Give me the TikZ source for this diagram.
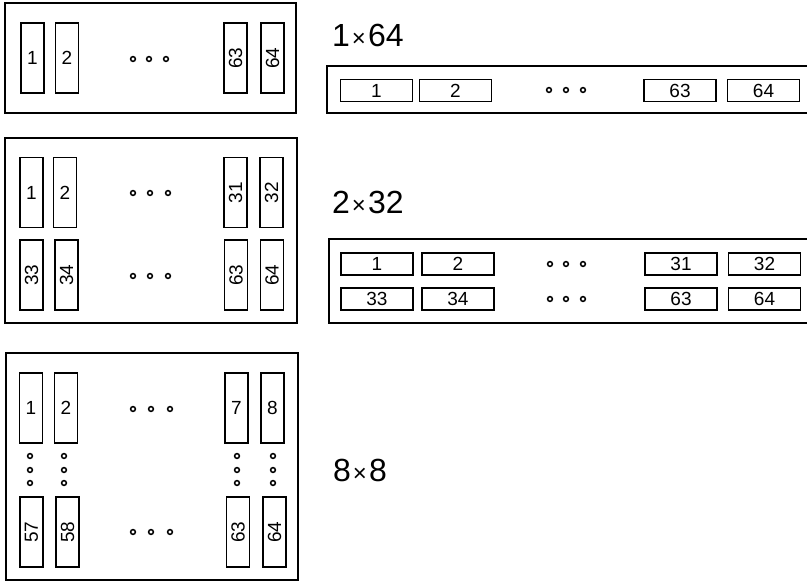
\documentclass[tikz,border=0pt]{standalone}
\usepackage{fontspec}
\usepackage{graphicx}
\setmainfont{Liberation Sans}
\tikzset{
  frame/.style={line width=2.4pt},
  cellv/.style={draw, line width=1.3pt, minimum width=23pt, minimum height=70pt, inner sep=0pt, font=\fontsize{19}{22}\selectfont},
  cellh/.style={draw, line width=1.3pt, minimum width=72pt, minimum height=22pt, inner sep=0pt, font=\fontsize{19}{22}\selectfont},
  ring/.style={draw, line width=1.5pt, fill=white},
  lab/.style={anchor=west, inner sep=0pt, font=\fontsize{32}{36}\selectfont}
}
\newcommand{\rot}[1]{\rotatebox{90}{#1}}
\newcommand{\tms}{\kern2pt{\fontsize{24}{24}\selectfont ×}\kern2pt}
\begin{document}
\begin{tikzpicture}[x=1pt,y=-1pt]
\useasboundingbox (0,0) rectangle (807,583);
% ---------- panel 1 ----------
\draw[frame] (5,3) rectangle (296,113);
\node[cellv] (a1) at (32.5,58) {1};
\node[cellv] (a2) at (67,58) {2};
\node[cellv] (a63) at (235.5,58) {\rot{63}};
\node[cellv] (a64) at (272.5,58) {\rot{64}};
\foreach \x in {133,149,166} \draw[ring] (\x,59) circle (2.4);
\node[lab] (l1) at (332,35) {1\tms64};
\draw[frame] (807,66) -- (327,66) -- (327,113) -- (807,113);
\node[cellh] (b1) at (376.5,90.5) {1};
\node[cellh] (b2) at (455.5,90.5) {2};
\node[cellh] (b63) at (680,90.5) {63};
\node[cellh] (b64) at (763.5,90.5) {64};
\foreach \x in {549,566,583} \draw[ring] (\x,90) circle (2.4);
% ---------- panel 2 ----------
\draw[frame] (5,138) rectangle (297,323);
\node[cellv] (c1) at (31.5,192.5) {1};
\node[cellv] (c2) at (65,192.5) {2};
\node[cellv] (c31) at (235.5,192.5) {\rot{31}};
\node[cellv] (c32) at (271.5,192.5) {\rot{32}};
\node[cellv] (c33) at (31.5,275) {\rot{33}};
\node[cellv] (c34) at (66.5,275) {\rot{34}};
\node[cellv] (c63) at (236,275) {\rot{63}};
\node[cellv] (c64) at (272,275) {\rot{64}};
\foreach \x in {133,150,168} {
  \draw[ring] (\x,193) circle (2.4);
  \draw[ring] (\x,276) circle (2.4);
}
\node[lab] (l2) at (332,202) {2\tms32};
\draw[frame] (807,239) -- (329,239) -- (329,323) -- (807,323);
\node[cellh] (d1) at (377,264) {1};
\node[cellh] (d2) at (458,264) {2};
\node[cellh] (d31) at (681,264) {31};
\node[cellh] (d32) at (764.5,264) {32};
\node[cellh] (d33) at (377,299) {33};
\node[cellh] (d34) at (458,299) {34};
\node[cellh] (d63) at (681,299) {63};
\node[cellh] (d64) at (764.5,299) {64};
\foreach \x in {550,566,583} {
  \draw[ring] (\x,264) circle (2.4);
  \draw[ring] (\x,299) circle (2.4);
}
% ---------- panel 3 ----------
\draw[frame] (6,353) rectangle (298,580);
\node[cellv] (e1) at (31,408) {1};
\node[cellv] (e2) at (66,408) {2};
\node[cellv] (e7) at (236.5,408) {7};
\node[cellv] (e8) at (272.5,408) {8};
\node[cellv] (e57) at (31.5,532) {\rot{57}};
\node[cellv] (e58) at (67.5,532) {\rot{58}};
\node[cellv] (e63) at (238,532) {\rot{63}};
\node[cellv] (e64) at (274.5,532) {\rot{64}};
\foreach \x in {133,151,170} {
  \draw[ring] (\x,409) circle (2.4);
  \draw[ring] (\x,532) circle (2.4);
}
\foreach \x in {30,64,237,273} \foreach \y in {456,470,483} \draw[ring] (\x,\y) circle (2.4);
\node[lab] (l3) at (333,470) {8\tms8};
\end{tikzpicture}
\end{document}
